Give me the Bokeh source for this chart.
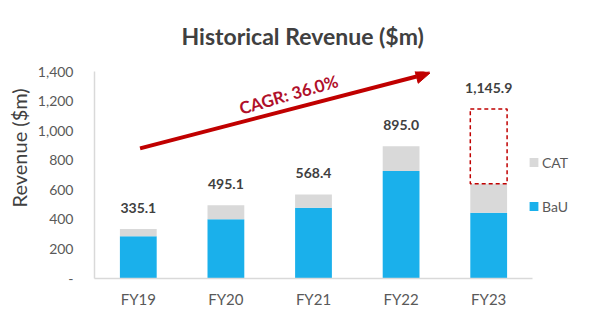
from bokeh.plotting import figure
from bokeh.models import (FactorRange, Range1d, FixedTicker, Label, Arrow, NormalHead,
                          Legend, LegendItem, ColumnDataSource, Title)
from bokeh.embed import file_html
from bokeh.resources import INLINE
from bokeh.core.properties import value

years = ["FY19", "FY20", "FY21", "FY22", "FY23"]
bau = [285, 400, 478, 727, 445]
cat = [50, 95, 90, 168, 195]
totals = [335.1, 495.1, 568.4, 895.0, 1145.9]
total_labels = ["335.1", "495.1", "568.4", "895.0", "1,145.9"]
y_ticks = [0, 200, 400, 600, 800, 1000, 1200, 1400]
y_tick_labels = ["-", "200", "400", "600", "800", "1,000", "1,200", "1,400"]
title_text = "Historical Revenue ($m)"
y_title = "Revenue ($m)"
cagr_text = "CAGR: 36.0%"

FONT = "Lato"
BLUE = "#1AB0EB"
GREY = "#D9D9D9"
RED = "#C00000"
DARK = "#404040"

src = ColumnDataSource(dict(years=years, BaU=bau, CAT=cat, totals=totals, labels=total_labels))
# dashed box only for the forecast year
last = ColumnDataSource(dict(years=years[-1:], base=[bau[-1] + cat[-1]], totals=totals[-1:]))

p = figure(frame_width=438, frame_height=207, x_range=FactorRange(factors=years, range_padding=0),
           y_range=Range1d(0, 1400), output_backend="svg", toolbar_location=None,
           min_border_left=92, min_border_right=67, min_border_top=71, min_border_bottom=51)
p.outline_line_color = None
p.xgrid.grid_line_color = None
p.ygrid.grid_line_color = None

rs = p.vbar_stack(["BaU", "CAT"], x="years", width=0.42, color=[BLUE, GREY],
                  line_color=None, source=src)

p.vbar(x="years", bottom="base", top="totals", width=0.42, fill_color=None,
       line_color=RED, line_width=1.5, line_dash="4 3", source=last)

p.text(x="years", y="totals", text="labels", source=src, y_offset=-21,
       text_align="center", text_baseline="middle", text_font=value(FONT),
       text_font_style="bold", text_font_size="14px", text_color=DARK)

# axes
p.yaxis.ticker = FixedTicker(ticks=y_ticks)
p.yaxis.major_label_overrides = {t: l for t, l in zip(y_ticks, y_tick_labels)}
for ax in (p.xaxis[0], p.yaxis[0]):
    ax.axis_line_color = "#D9D9D9"
    ax.axis_line_width = 1.5
    ax.major_tick_line_color = None
    ax.minor_tick_line_color = None
    ax.major_label_text_font = FONT
    ax.major_label_text_color = "#595959"
p.yaxis.major_label_text_font_size = "14px"
p.xaxis.major_label_text_font_size = "15px"
p.yaxis.major_label_standoff = 15
p.xaxis.major_label_standoff = 5

# y-axis title (as a side title so it can sit off-centre)
p.add_layout(Title(text=y_title, align="left", offset=71, standoff=8,
                   text_font=FONT, text_font_size="20px", text_font_style="normal",
                   text_color=DARK), "left")

# chart title
p.add_layout(Title(text=title_text, align="left", offset=87, standoff=40, vertical_align="top",
                   text_font=FONT, text_font_size="23px", text_font_style="bold",
                   text_color=DARK), "above")

# CAGR arrow and label
p.add_layout(Arrow(end=NormalHead(size=14, fill_color=RED, line_color=RED),
                   x_start=0.52, y_start=880, x_end=3.83, y_end=1390,
                   line_color=RED, line_width=4))
p.add_layout(Label(x=2.216, y=1245, text=cagr_text, angle=16, angle_units="deg",
                   text_align="center", text_baseline="middle", text_font=FONT,
                   text_font_style="bold", text_font_size="17px", text_color="#B0102A"))

legend = Legend(items=[LegendItem(label="CAT", renderers=[rs[1]]),
                       LegendItem(label="BaU", renderers=[rs[0]])],
                location="center_left", orientation="vertical", spacing=27,
                title=" ", title_text_font_size="12px", title_standoff=4,
                glyph_width=11, glyph_height=11, label_standoff=3, padding=0, margin=-4,
                border_line_color=None, background_fill_alpha=0,
                label_text_font=FONT, label_text_font_size="14px", label_text_color="#595959")
p.add_layout(legend, "right")

open("out.html", "w").write(file_html(p, INLINE))
